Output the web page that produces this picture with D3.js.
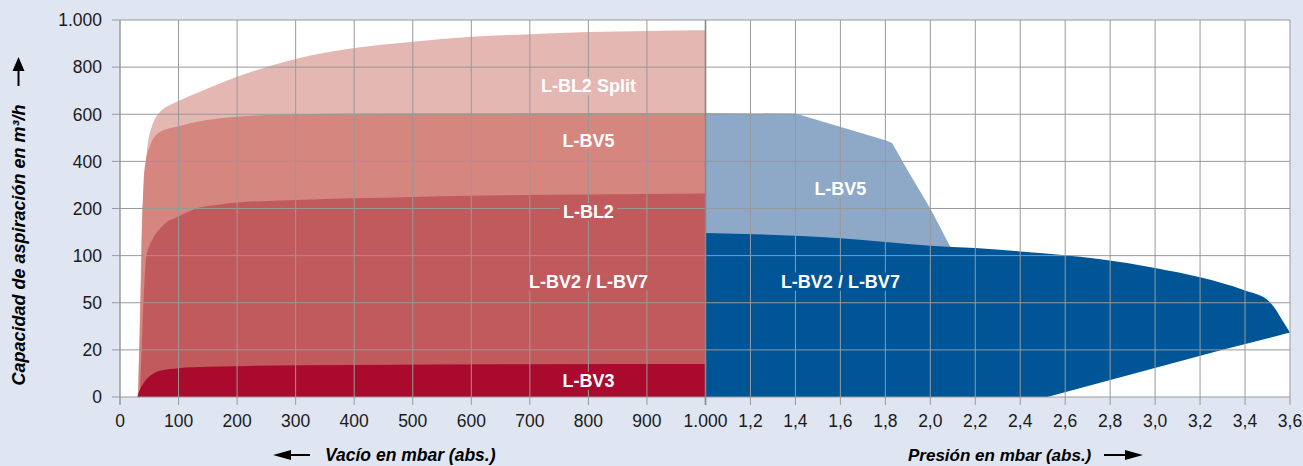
<!DOCTYPE html>
<html><head><meta charset="utf-8">
<script src="https://cdn.jsdelivr.net/npm/d3@7"></script>
<style>
html,body{margin:0;padding:0;background:#dfe5f1;}
svg{display:block;font-family:"Liberation Sans",Arial,Helvetica,sans-serif;}
</style></head><body><svg id="c" width="1303" height="466"></svg>
<script>
// ---- data ----
const yTicks = [0, 20, 50, 100, 200, 400, 600, 800, 1000];
const vacTicks = [0, 100, 200, 300, 400, 500, 600, 700, 800, 900, 1000];
const presTicks = [1.2, 1.4, 1.6, 1.8, 2.0, 2.2, 2.4, 2.6, 2.8, 3.0, 3.2, 3.4, 3.6];

// vacuum side: [mbar, m³/h]
const bl2Split = [[30.5,0],[32.5,20],[34.5,50],[36.2,100],[38.1,200],[41,236],[43.6,363],[46.1,448],[49.5,504],[54.7,550],[61.5,588],[71.7,618],[85.4,639],[99.1,656],[136.6,696],[200,759],[300,835],[400,881],[500,908],[600,929],[700,940],[800,949],[900,953],[1000,956]];
const bv5Vac = [[31,0],[33,20],[35,50],[36.7,100],[38.6,200],[40.5,323],[44.5,408],[51,464],[68,525],[100,549],[136,570],[200,589],[300,600],[500,604],[1000,605]];
const bl2Vac = [[33.5,0],[37,20],[40,50],[42.5,80],[44.4,97],[46.5,108],[50,120],[57,138],[65,152],[75,166],[100,183],[130,200],[171,217],[200,225],[300,236],[400,243],[500,249],[600,254],[800,259],[1000,264]];
const bv3Vac = [[29.5,0],[33,2.5],[38,5],[45,7.5],[56,9.8],[70,11.2],[100,12.2],[150,12.8],[200,13.1],[400,13.6],[700,13.9],[1000,14]];

// pressure side: [bar, m³/h]
const bv5Pres = [[1.0,605],[1.4,603],[1.8,490],[1.83,478],[1.9,360],[2.0,200],[2.09,118],[2.2,40],[2.25,0]];
const bv2Top = [[1.0,148],[1.6,137],[2.0,121],[2.2,116],[2.4,109],[2.6,101],[2.75,96.5],[3.0,87],[3.2,77],[3.4,63],[3.5,53],[3.53,47],[3.565,39],[3.6,31]];
const bv2Bottom = [[1.0,0],[2.52,0],[3.296,20],[3.6,31]];

const leftLabels = ["L-BL2 Split", "L-BV5", "L-BL2", "L-BV2 / L-BV7", "L-BV3"];
const rightLabels = ["L-BV5", "L-BV2 / L-BV7"];

// ---- layout ----
const L = 120, R = 1290, T = 20, B = 397, M = 705.5;
const col = {bg:"#dfe5f1", split:"#e4b7b3", bv5:"#d4867f", bl2:"#c15a5c", bv3:"#a90a2e", lblue:"#8ea8c7", dblue:"#005596", grid:"#999999"};

const svg = d3.select("#c");
svg.append("rect").attr("width",1303).attr("height",466).attr("fill",col.bg);
svg.append("rect").attr("x",L).attr("y",T).attr("width",R-L).attr("height",B-T).attr("fill","#fff");

const y = d3.scaleLinear().domain(yTicks).range(yTicks.map((d,i)=>B-(B-T)*i/(yTicks.length-1)));
const xv = d3.scaleLinear().domain([0,1000]).range([L,M]);
const xp = d3.scaleLinear().domain([1.0,3.6]).range([M,R]);

// areas vacuum
const areaV = d3.area().x(d=>xv(d[0])).y0(y(0)).y1(d=>y(d[1])).curve(d3.curveMonotoneX);
[[bl2Split,col.split],[bv5Vac,col.bv5],[bl2Vac,col.bl2],[bv3Vac,col.bv3]].forEach(([d,c])=>{
  svg.append("path").attr("d",areaV(d)).attr("fill",c);
});
// areas pressure
const areaP = d3.area().x(d=>xp(d[0])).y0(y(0)).y1(d=>y(d[1])).curve(d3.curveLinear);
svg.append("path").attr("d",areaP(bv5Pres)).attr("fill",col.lblue);
const topLine = d3.line().x(d=>xp(d[0])).y(d=>y(d[1])).curve(d3.curveMonotoneX);
const botLine = d3.line().x(d=>xp(d[0])).y(d=>y(d[1]));
svg.append("path").attr("d", topLine(bv2Top) + botLine(bv2Bottom.slice().reverse()).replace(/^M/,"L") + "Z").attr("fill",col.dblue);

// grid
const g = svg.append("g").attr("stroke",col.grid).attr("stroke-width",1).attr("fill","none");
yTicks.forEach(v=>g.append("line").attr("x1",L-8).attr("x2",R).attr("y1",y(v)).attr("y2",y(v)));
vacTicks.forEach(v=>g.append("line").attr("x1",xv(v)).attr("x2",xv(v)).attr("y1",T).attr("y2",B+8).attr("stroke-width",v===1000?1.6:1).attr("stroke",v===1000?"#888":col.grid));
presTicks.forEach(v=>g.append("line").attr("x1",xp(v)).attr("x2",xp(v)).attr("y1",T).attr("y2",B+8));
g.append("line").attr("x1",L).attr("x2",L).attr("y1",T).attr("y2",B+8);

// tick labels
const tl = svg.append("g").attr("font-size",17.5).attr("fill","#1a1a1a");
yTicks.forEach(v=>tl.append("text").attr("x",102).attr("y",y(v)).attr("dy","0.36em").attr("text-anchor","end").text(v===1000?"1.000":String(v)));
vacTicks.forEach(v=>tl.append("text").attr("x",xv(v)).attr("y",427).attr("text-anchor","middle").text(v===1000?"1.000":String(v)));
presTicks.forEach(v=>tl.append("text").attr("x",xp(v)).attr("y",427).attr("text-anchor","middle").text(v.toFixed(1).replace(".",",")));

// series labels
function label(text,x,yb,bg){
  const t = svg.append("text").attr("x",x).attr("y",yb).attr("text-anchor","middle")
    .attr("font-size",18).attr("font-weight","bold").attr("fill","#fff").text(text);
  const bb = t.node().getBBox();
  svg.insert("rect", function(){return t.node();}).attr("x",bb.x-3).attr("y",bb.y+1).attr("width",bb.width+6).attr("height",bb.height-2).attr("fill",bg);
}
const leftFill = [col.split,col.bv5,col.bl2,col.bl2,col.bv3];
const leftBase = [92.3,147.3,218.3,287.7,386.7];
leftLabels.forEach((s,i)=>label(s,xv(800),leftBase[i],leftFill[i]));
const rightFill = [col.lblue,col.dblue];
const rightBase = [195,287.5];
rightLabels.forEach((s,i)=>label(s,xp(1.6),rightBase[i],rightFill[i]));

// axis titles
svg.append("text").attr("transform","translate(25,245) rotate(-90)").attr("text-anchor","middle")
  .attr("font-size",18).attr("font-weight","bold").attr("font-style","italic").attr("fill","#000")
  .text("Capacidad de aspiración en m³/h");
svg.append("text").attr("x",325).attr("y",461).attr("font-size",17.5).attr("font-weight","bold").attr("font-style","italic").attr("fill","#000").text("Vacío en mbar (abs.)");
svg.append("text").attr("x",908).attr("y",461).attr("font-size",17).attr("font-weight","bold").attr("font-style","italic").attr("fill","#000").text("Presión en mbar (abs.)");

// arrows
const ar = svg.append("g");
ar.append("line").attr("x1",18.5).attr("x2",18.5).attr("y1",86).attr("y2",68).attr("stroke","#000").attr("stroke-width",2);
ar.append("path").attr("d","M18.5,57 L24.5,71 L12.5,71 Z").attr("fill","#000");
ar.append("line").attr("x1",310).attr("x2",288).attr("y1",455).attr("y2",455).attr("stroke","#000").attr("stroke-width",2);
ar.append("path").attr("d","M273,455 L291,450 L291,460 Z").attr("fill","#000");
ar.append("line").attr("x1",1104).attr("x2",1127).attr("y1",455).attr("y2",455).attr("stroke","#000").attr("stroke-width",2);
ar.append("path").attr("d","M1143,455 L1125,450 L1125,460 Z").attr("fill","#000");
</script></body></html>
